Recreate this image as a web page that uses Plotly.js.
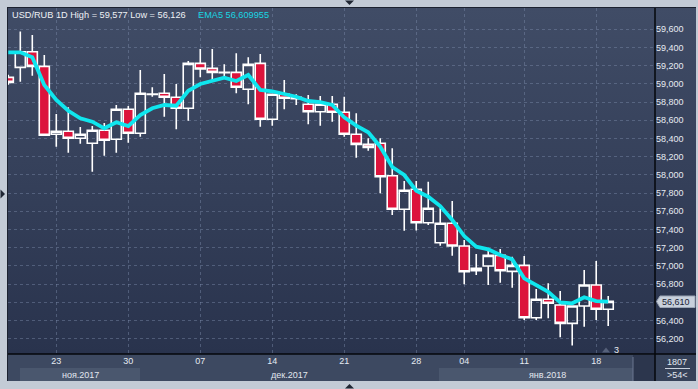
<!DOCTYPE html>
<html><head><meta charset="utf-8">
<script src="https://cdn.plot.ly/plotly-3.0.1.min.js"></script>
<style>
html,body{margin:0;padding:0;background:#c3cbd6;}
#chart{width:698px;height:389px;background:linear-gradient(#404c66,#29334d) 8px 8px/688px 346px no-repeat,#c3cbd6;}
</style></head><body><div id="chart"></div>
<script>
// trading-day index of each candle
const dayIndex = [0,1,2,3,4,5,6,7,8,9,10,11,12,13,14,15,16,17,18,19,20,21,22,23,24,25,26,27,28,29,30,31,32,33,34,35,36,37,38,39,40,41,42,43,44,45,46,47,48,49,50];
const openV  = [59072,59182,59354,59193,58446,58479,58402,58347,58490,58391,58721,58457,58884,58897,58853,58732,59226,59171,59124,59127,58941,59226,58611,58886,58836,58776,58694,58776,58688,58446,58336,58347,57991,57622,57842,57475,57255,57468,57218,56947,56999,57116,56940,57006,56430,56633,56570,56369,56559,56790,56523];
const highV  = [59100,59577,59537,59318,58669,58743,58526,58537,58570,58768,58757,59153,58963,59109,58999,59252,59383,59383,59215,59336,59292,59329,58890,59043,58886,58878,58867,58867,58859,58677,58402,58402,58292,57933,57933,57925,57633,57713,57284,57131,57175,57186,57101,57109,56746,56809,56724,56565,56955,57054,56669];
const lowV   = [58990,59024,59090,58430,58310,58244,58343,58035,58211,58244,58354,58420,58859,58640,58501,58596,59072,59043,59079,58897,58776,58530,58541,58721,58768,58556,58541,58585,58420,58189,58266,57798,57559,57387,57390,57449,57222,57112,56798,56900,56790,56815,56760,56405,56405,56424,56215,56126,56332,56405,56339];
const closeV = [59017,59354,59193,58435,58479,58402,58446,58490,58380,58721,58457,58897,58888,58853,58732,59226,59164,59127,59127,58963,59215,58611,58886,58842,58852,58694,58776,58688,58446,58336,58303,57980,57622,57831,57475,57633,57468,57218,56936,56973,57116,56947,57006,56430,56633,56589,56369,56559,56790,56523,56610];
const ema5   = [59347,59347,59292,58988,58823,58705,58622,58585,58512,58578,58537,58658,58732,58768,58760,58925,58999,59035,59068,59032,59098,58933,58919,58889,58859,58812,58801,58768,58633,58541,58468,58310,58087,57999,57826,57760,57658,57504,57328,57211,57182,57120,57072,56863,56790,56716,56600,56589,56655,56614,56607];

const xTickPos   = [4,10,16,22,28,34,38,43,49];
const xTickText  = ['23','30','07','14','21','28','04','11','18'];
const yTickVals  = [56200,56400,56600,56800,57000,57200,57400,57600,57800,58000,58200,58400,58600,58800,59000,59200,59400,59600];
const yTickText  = ['56,200','56,400','','56,800','57,000','57,200','57,400','57,600','57,800','58,000','58,200','58,400','58,600','58,800','59,000','59,200','59,400','59,600'];
const monthNames = ['ноя.2017','дек.2017','янв.2018'];
const legendMain = 'USD/RUB 1D High = 59,577 Low = 56,126';
const legendEma  = 'EMA5 56,609955';
const lastPrice  = '56,610';

// pixel -> paper helpers (plot area 8..655 x 8..354)
const W=698,H=389,L=8,R=43,T=8,B=35;
const pw=W-L-R, ph=H-T-B;
const px=x=>(x-L)/pw, py=y=>1-(y-T)/ph;
const path=pts=>'M'+pts.map(p=>px(p[0])+','+py(p[1])).join(' L')+' Z';

const FONT='Liberation Sans, Arial, sans-serif';

const traces=[
 {type:'candlestick',x:dayIndex,open:openV,high:highV,low:lowV,close:closeV,
  increasing:{line:{color:'#ffffff',width:1.6},fillcolor:'rgba(0,0,0,0)'},
  decreasing:{line:{color:'#ffffff',width:1.6},fillcolor:'#dc143c'},
  whiskerwidth:0,hoverinfo:'skip',showlegend:false},
 {type:'scatter',mode:'lines',x:dayIndex,y:ema5,line:{color:'#0fe6ee',width:3.8},hoverinfo:'skip',showlegend:false}
];

const shapes=[
 {type:'rect',xref:'paper',yref:'paper',x0:px(8),x1:px(696),y0:py(354),y1:py(381),fillcolor:'#3d4961',line:{width:0},layer:'below'},
 {type:'rect',xref:'paper',yref:'paper',x0:px(20),x1:px(140),y0:py(368),y1:py(381),fillcolor:'#4a576e',line:{width:0},layer:'below'},
 {type:'rect',xref:'paper',yref:'paper',x0:px(439),x1:px(655),y0:py(368),y1:py(381),fillcolor:'#4a576e',line:{width:0},layer:'below'},
 {type:'rect',xref:'paper',yref:'paper',x0:px(633),x1:px(655),y0:py(355),y1:py(381),fillcolor:'#2c364d',line:{width:0},layer:'below'},
 {type:'line',xref:'paper',yref:'paper',x0:px(633),x1:px(633),y0:py(357),y1:py(381),line:{color:'#6a7690',width:1},layer:'below'},
 {type:'rect',xref:'paper',yref:'paper',x0:px(655),x1:px(696),y0:py(354),y1:py(381),fillcolor:'#364259',line:{width:0},layer:'below'},
 {type:'line',xref:'paper',yref:'paper',x0:px(665),x1:px(690),y0:py(368.5),y1:py(368.5),line:{color:'#c9d1dd',width:1}},
 {type:'line',xref:'paper',yref:'paper',x0:px(7),x1:px(696),y0:py(7.5),y1:py(7.5),line:{color:'#1c2230',width:1}},
 {type:'line',xref:'paper',yref:'paper',x0:px(7.5),x1:px(7.5),y0:py(7),y1:py(381),line:{color:'#1c2230',width:1}},
 {type:'line',xref:'paper',yref:'paper',x0:px(8),x1:px(696),y0:py(354),y1:py(354),line:{color:'#05070b',width:1.5}},
 {type:'line',xref:'paper',yref:'paper',x0:px(655),x1:px(655),y0:py(8),y1:py(381),line:{color:'#05070b',width:1.5}},
 {type:'path',xref:'paper',yref:'paper',path:path([[656.5,301.5],[660,296],[695,296],[695,307.5],[660,307.5]]),fillcolor:'#c8d0dc',line:{color:'#9aa4b4',width:1}},
 {type:'path',xref:'paper',yref:'paper',path:path([[345,0.5],[354,0.5],[349.5,5]]),fillcolor:'#1f2633',line:{width:0}},
 {type:'path',xref:'paper',yref:'paper',path:path([[0.5,189.5],[0.5,198.5],[5,194]]),fillcolor:'#1f2633',line:{width:0}},
 {type:'path',xref:'paper',yref:'paper',path:path([[345,388.5],[354,388.5],[349.5,384]]),fillcolor:'#1f2633',line:{width:0}},
 {type:'path',xref:'paper',yref:'paper',path:path([[602,352.5],[610,352.5],[606,347.5]]),fillcolor:'#56617a',line:{width:0}}
];

const ann=(x,y,text,color,size,anchor)=>({xref:'paper',yref:'paper',x:px(x),y:py(y),text:text,showarrow:false,
  xanchor:anchor||'left',yanchor:'middle',font:{family:FONT,size:size||9,color:color||'#e8ecf2'}});

const annotations=[
 ann(10,15,legendMain,'#eef1f5',9.2),
 ann(196,15,legendEma,'#19d6e3',9.2),
 ann(80,374.5,monthNames[0],'#e2e7ef',9,'center'),
 ann(289,374.5,monthNames[1],'#e2e7ef',9,'center'),
 ann(547,374.5,monthNames[2],'#e2e7ef',9,'center'),
 ann(676,301.8,lastPrice,'#1a2235',9,'center'),
 ann(677,362,'1807','#e2e7ef',9,'center'),
 ann(677,374.5,'&gt;54&lt;','#e2e7ef',9,'center'),
 ann(612,349.5,'3','#e8ecf2',9)
];

const layout={
 width:W,height:H,margin:{l:L,r:R,t:T,b:B,pad:0},
 paper_bgcolor:'rgba(0,0,0,0)',plot_bgcolor:'rgba(0,0,0,0)',
 showlegend:false,hovermode:false,boxgap:0.16,boxgroupgap:0,
 font:{family:FONT,size:9,color:'#e6ebf2'},
 xaxis:{range:[-0.025,53.9],tickmode:'array',tickvals:xTickPos,ticktext:xTickText,
   showgrid:true,gridcolor:'rgba(125,140,170,0.45)',griddash:'3px,3px',gridwidth:1,
   zeroline:false,showline:false,ticks:'',rangeslider:{visible:false},fixedrange:true,
   tickfont:{family:FONT,size:9,color:'#e6ebf2'}},
 yaxis:{range:[56032,59834],side:'right',tickmode:'array',tickvals:yTickVals,ticktext:yTickText,
   showgrid:true,gridcolor:'rgba(125,140,170,0.45)',griddash:'3px,3px',gridwidth:1,
   zeroline:false,showline:false,ticks:'',fixedrange:true,
   tickfont:{family:FONT,size:9,color:'#e6ebf2'}},
 shapes:shapes,annotations:annotations
};
Plotly.newPlot('chart',traces,layout,{staticPlot:true,displayModeBar:false});
</script></body></html>
